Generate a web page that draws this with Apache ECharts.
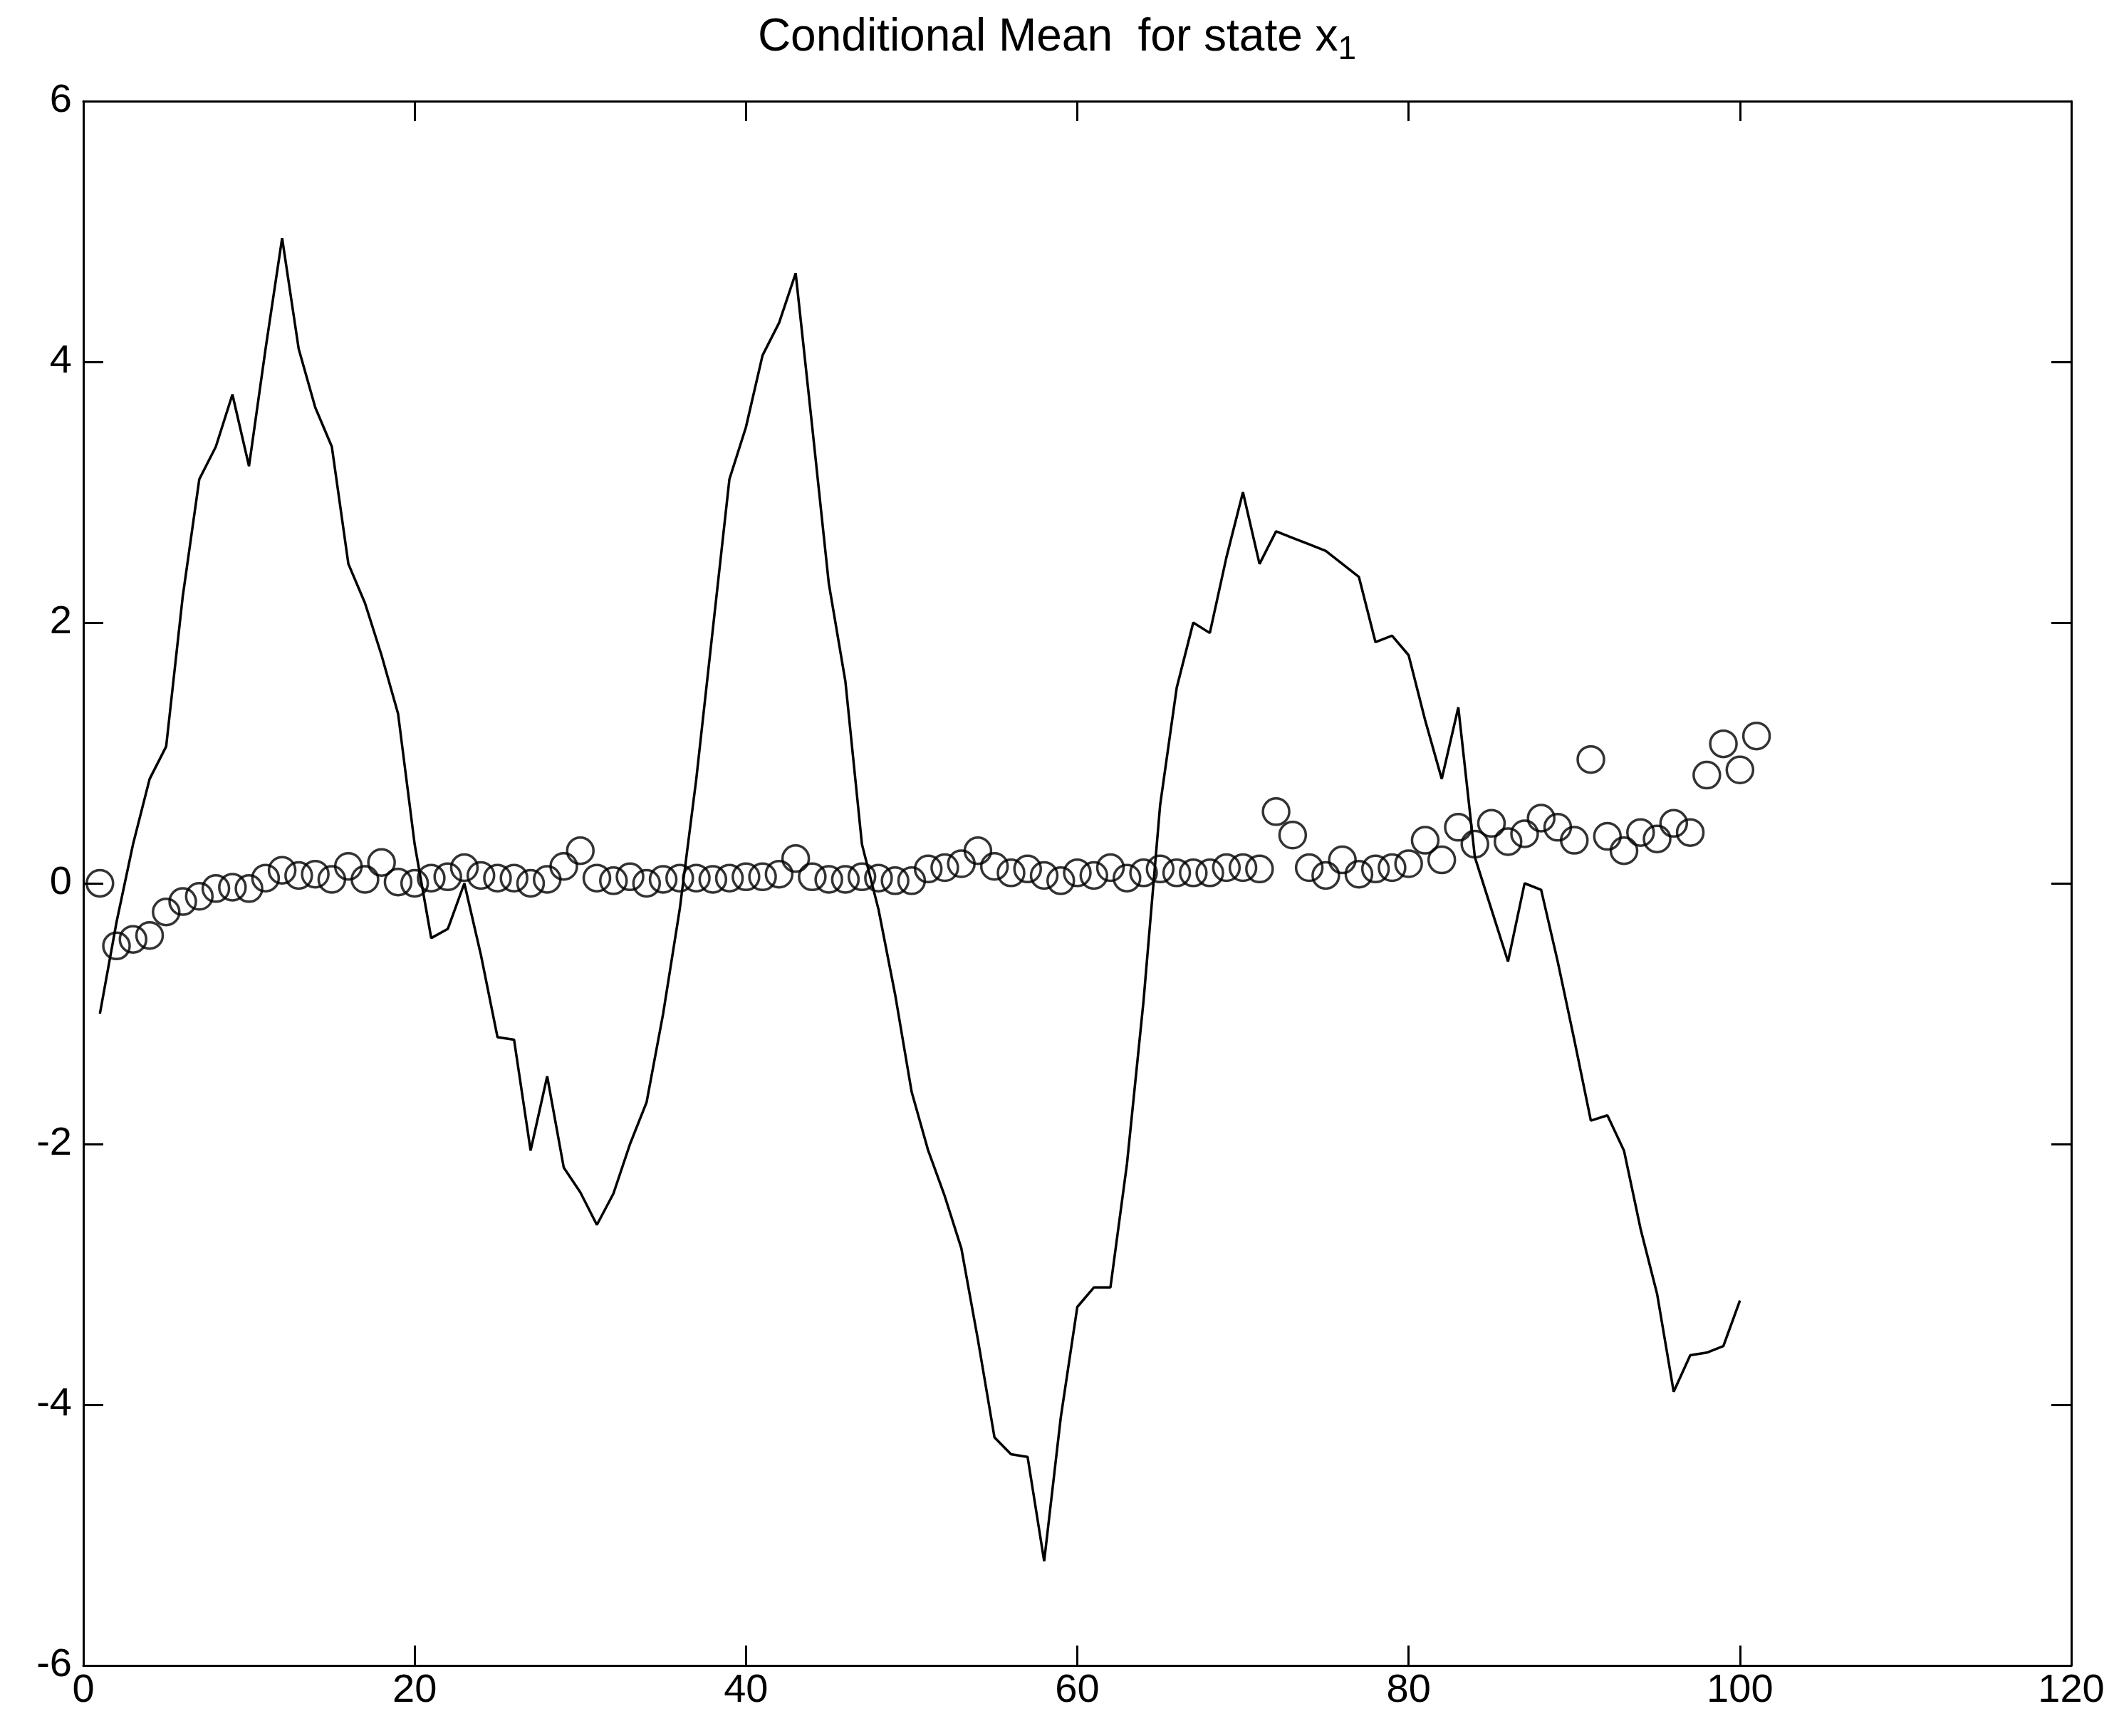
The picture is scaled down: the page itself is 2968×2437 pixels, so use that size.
<!DOCTYPE html>
<html>
<head>
<meta charset="utf-8">
<script src="https://cdn.jsdelivr.net/npm/echarts@6/dist/echarts.min.js"></script>
<style>html,body{margin:0;padding:0;background:#fff}#main{width:2968px;height:2437px}</style>
</head>
<body>
<div id="main"></div>
<script>
// solid line, t = 1..100
var lineValues = [-1.0,-0.3,0.3,0.8,1.05,2.2,3.1,3.35,3.75,3.2,
  4.1,4.95,4.1,3.65,3.35,2.45,2.15,1.75,1.3,0.3,
  -0.42,-0.35,0.0,-0.55,-1.18,-1.2,-2.05,-1.48,-2.18,-2.37,
  -2.62,-2.38,-2.0,-1.68,-1.0,-0.2,0.8,1.95,3.1,3.5,
  4.05,4.3,4.68,3.5,2.3,1.55,0.3,-0.2,-0.85,-1.6,
  -2.05,-2.4,-2.8,-3.5,-4.25,-4.38,-4.4,-5.2,-4.1,-3.25,
  -3.1,-3.1,-2.15,-0.9,0.6,1.5,2.0,1.92,2.5,3.0,
  2.45,2.7,2.65,2.6,2.55,2.45,2.35,1.85,1.9,1.75,
  1.25,0.8,1.35,0.2,-0.2,-0.6,0.0,-0.05,-0.6,-1.2,
  -1.82,-1.78,-2.05,-2.65,-3.15,-3.9,-3.62,-3.6,-3.55,-3.2];

// circles, t = 1..101
var meanValues = [0,-0.48,-0.43,-0.4,-0.22,-0.14,-0.1,-0.04,-0.03,-0.04,
  0.04,0.1,0.06,0.07,0.03,0.13,0.03,0.16,0.01,0.0,
  0.04,0.05,0.12,0.06,0.04,0.04,0.0,0.03,0.13,0.25,
  0.04,0.02,0.05,0.0,0.03,0.04,0.04,0.03,0.04,0.05,
  0.05,0.07,0.19,0.05,0.03,0.03,0.05,0.04,0.02,0.02,
  0.11,0.12,0.15,0.25,0.13,0.08,0.11,0.06,0.02,0.08,
  0.06,0.12,0.04,0.08,0.11,0.08,0.08,0.08,0.12,0.12,
  0.11,0.55,0.37,0.12,0.06,0.18,0.07,0.11,0.12,0.15,
  0.33,0.18,0.43,0.3,0.46,0.32,0.38,0.5,0.43,0.33,
  0.95,0.36,0.25,0.39,0.34,0.46,0.39,0.83,1.07,0.87,
  1.13];

var xTicks = [0, 20, 40, 60, 80, 100, 120];
var yTicks = [-6, -4, -2, 0, 2, 4, 6];

var lineData = [], meanData = [];
for (var i = 0; i < lineValues.length; i++) lineData.push([i + 1, lineValues[i]]);
for (var j = 0; j < meanValues.length; j++) meanData.push([j + 1, meanValues[j]]);

var font = 'Liberation Sans, Arial, sans-serif';
function xAx(pos, show) {
    return {
        type: 'value', position: pos, min: xTicks[0], max: xTicks[xTicks.length - 1], interval: 20,
        axisLine: {show: true, onZero: false, lineStyle: {color: '#000', width: 3}},
        axisTick: {show: true, inside: true, length: 28, lineStyle: {color: '#000', width: 3}},
        axisLabel: {show: show, fontSize: 56, color: '#000', fontFamily: font, margin: 8},
        splitLine: {show: false}
    };
}
function yAx(pos, show) {
    return {
        type: 'value', position: pos, min: yTicks[0], max: yTicks[yTicks.length - 1], interval: 2,
        axisLine: {show: true, onZero: false, lineStyle: {color: '#000', width: 3}},
        axisTick: {show: true, inside: true, length: 28, lineStyle: {color: '#000', width: 3}},
        axisLabel: {show: show, fontSize: 56, color: '#000', fontFamily: font, margin: 16},
        splitLine: {show: false}
    };
}

var myChart = echarts.init(document.getElementById('main'));
var option = {
    backgroundColor: '#fff',
    animation: false,
    title: {
        text: '{a|Conditional Mean  for state x}{s|1}',
        left: 'center', top: 8,
        textStyle: {
            rich: {
                a: {fontSize: 64, fontWeight: 'normal', fontFamily: font, color: '#000'},
                s: {fontSize: 46, fontWeight: 'normal', fontFamily: font, color: '#000', padding: [34, 0, 0, 0]}
            }
        }
    },
    grid: {left: 117, right: 60, top: 142, bottom: 99},
    xAxis: [xAx('bottom', true), xAx('top', false)],
    yAxis: [yAx('left', true), yAx('right', false)],
    series: [
        {
            type: 'line', data: lineData, showSymbol: false,
            lineStyle: {color: '#000', width: 3.5}
        },
        {
            type: 'scatter', data: meanData, symbol: 'circle', symbolSize: 37,
            itemStyle: {color: 'rgba(0,0,0,0)', borderColor: '#000', borderWidth: 3.5}
        }
    ]
};
myChart.setOption(option, true);
</script>
</body>
</html>
